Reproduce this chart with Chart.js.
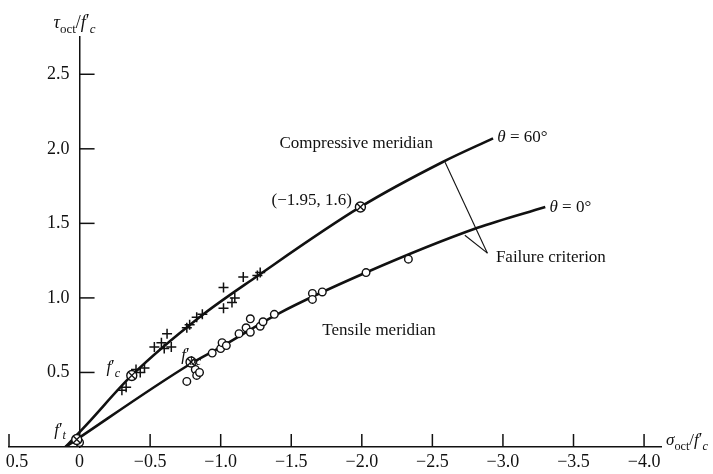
<!DOCTYPE html>
<html>
<head>
<meta charset="utf-8">
<script src="https://cdn.jsdelivr.net/npm/chart.js@4.4.0/dist/chart.umd.min.js"></script>
<style>
  html, body { margin: 0; padding: 0; background: #fff; }
</style>
</head>
<body>
<canvas id="meridianChart" width="713" height="474"></canvas>
<script>
// valori degli assi
const xTickValues = [0.5, 0, -0.5, -1, -1.5, -2, -2.5, -3, -3.5, -4];
const xTickLabels = ['0.5', '0', '\u22120.5', '\u22121.0', '\u22121.5', '\u22122.0', '\u22122.5', '\u22123.0', '\u22123.5', '\u22124.0'];
const yTickValues = [0.5, 1, 1.5, 2, 2.5];
const yTickLabels = ['0.5', '1.0', '1.5', '2.0', '2.5'];

// meridiani (curve di rottura)
const compX = [0.10, -0.05, -0.37, -0.85, -1.25, -1.99, -2.57, -2.93];
const compY = [0, 0.15, 0.48, 0.87, 1.14, 1.61, 1.91, 2.07];
const tensX = [0.10, -0.79, -1.00, -1.40, -2.03, -2.82, -3.30];
const tensY = [0, 0.56, 0.67, 0.89, 1.17, 1.47, 1.61];

// dati sperimentali
const plusPoints = [[-0.30, 0.38], [-0.33, 0.40], [-0.40, 0.52], [-0.43, 0.50], [-0.46, 0.53],
  [-0.53, 0.67], [-0.58, 0.70], [-0.62, 0.76], [-0.60, 0.66], [-0.65, 0.67], [-0.76, 0.80],
  [-0.78, 0.82], [-0.83, 0.87], [-0.87, 0.89], [-1.02, 1.07], [-1.02, 0.93], [-1.08, 0.97],
  [-1.10, 1.00], [-1.16, 1.14], [-1.26, 1.15], [-1.28, 1.17]];
const circlePoints = [[0.00, 0.03], [-0.82, 0.52], [-0.83, 0.48], [-0.76, 0.44], [-0.85, 0.50],
  [-0.94, 0.63], [-1.00, 0.66], [-1.01, 0.70], [-1.04, 0.68], [-1.13, 0.76], [-1.18, 0.80],
  [-1.21, 0.86], [-1.21, 0.77], [-1.28, 0.81], [-1.30, 0.84], [-1.38, 0.89], [-1.65, 1.03],
  [-1.65, 0.99], [-1.72, 1.04], [-2.03, 1.17], [-2.33, 1.26]];
const specialPoints = [[0.02, 0.05], [-0.37, 0.48], [-0.79, 0.57], [-1.99, 1.61]];

const toXY = (xs, ys) => xs.map((x, i) => ({ x: x, y: ys[i] }));
const pairs = arr => arr.map(p => ({ x: p[0], y: p[1] }));

const serif = '"Liberation Serif", "Times New Roman", serif';

// testi sul grafico (posizioni in unita' dei dati)
const notes = [
  { x: -1.96, y: 2.04, parts: [{ t: 'Compressive meridian' }], align: 'center' },
  { x: -1.93, y: 1.66, parts: [{ t: '(\u22121.95, 1.6)' }], align: 'right' },
  { x: -2.96, y: 2.08, parts: [{ t: '\u03b8', it: true }, { t: ' = 60\u00b0' }] },
  { x: -3.33, y: 1.61, parts: [{ t: '\u03b8', it: true }, { t: ' = 0\u00b0' }] },
  { x: -2.95, y: 1.28, parts: [{ t: 'Failure criterion' }] },
  { x: -1.72, y: 0.785, parts: [{ t: 'Tensile meridian' }] },
  { x: -0.19, y: 0.54, parts: [{ t: 'f', it: true }, { t: '\u2032', sup: true }, { t: 'c', it: true, sub: true }] },
  { x: -0.72, y: 0.62, parts: [{ t: 'f', it: true }, { t: '\u2032', sup: true }, { t: 'bc', it: true, sub: true }] },
  { x: 0.18, y: 0.12, parts: [{ t: 'f', it: true }, { t: '\u2032', sup: true }, { t: 't', it: true, sub: true }] }
];
const leaders = [[-2.59, 1.91, -2.89, 1.30], [-2.73, 1.42, -2.89, 1.30]];

function drawRich(ctx, x, y, parts, size, align) {
  const fontOf = p => (p.it ? 'italic ' : '') + (p.sub ? size * 0.72 : size) + 'px ' + serif;
  let w = 0;
  parts.forEach(p => { ctx.font = fontOf(p); w += ctx.measureText(p.t).width; });
  let cx = x;
  if (align === 'center') cx = x - w / 2;
  if (align === 'right') cx = x - w;
  parts.forEach(p => {
    ctx.font = fontOf(p);
    const dy = p.sub ? size * 0.28 : (p.sup ? -size * 0.05 : 0);
    ctx.fillText(p.t, cx, y + dy);
    cx += ctx.measureText(p.t).width;
  });
}

const decor = {
  id: 'decor',
  afterDraw(chart) {
    const ctx = chart.ctx;
    const xs = chart.scales.x, ys = chart.scales.y;
    const x0 = xs.getPixelForValue(0), y0 = ys.getPixelForValue(0);
    ctx.save();
    ctx.strokeStyle = '#111';
    ctx.fillStyle = '#111';
    ctx.lineWidth = 1.5;
    // tacche verso l'interno + etichette
    ctx.font = '18px ' + serif;
    ctx.textAlign = 'center';
    ctx.textBaseline = 'middle';
    xTickValues.forEach((v, i) => {
      const px = xs.getPixelForValue(v);
      if (v !== 0) {
        ctx.beginPath(); ctx.moveTo(px, y0); ctx.lineTo(px, y0 - 13); ctx.stroke();
      }
      ctx.fillText(xTickLabels[i], Math.max(px, 17), y0 + 15);
    });
    ctx.textAlign = 'right';
    yTickValues.forEach((v, i) => {
      const py = ys.getPixelForValue(v);
      ctx.beginPath(); ctx.moveTo(x0, py); ctx.lineTo(x0 + 15, py); ctx.stroke();
      ctx.fillText(yTickLabels[i], x0 - 10, py);
    });
    // linee del "Failure criterion"
    ctx.lineWidth = 1.1;
    leaders.forEach(l => {
      ctx.beginPath();
      ctx.moveTo(xs.getPixelForValue(l[0]), ys.getPixelForValue(l[1]));
      ctx.lineTo(xs.getPixelForValue(l[2]), ys.getPixelForValue(l[3]));
      ctx.stroke();
    });
    // testi
    ctx.textAlign = 'left';
    ctx.textBaseline = 'alphabetic';
    notes.forEach(n => {
      drawRich(ctx, xs.getPixelForValue(n.x), ys.getPixelForValue(n.y) + 5.5, n.parts, 17, n.align || 'left');
    });
    // titoli degli assi
    drawRich(ctx, x0 - 26, ys.top - 9, [{ t: '\u03c4', it: true }, { t: 'oct', sub: true }, { t: '/' },
      { t: 'f', it: true }, { t: '\u2032', sup: true }, { t: 'c', it: true, sub: true }], 18, 'left');
    drawRich(ctx, xs.right + 5, y0 - 2, [{ t: '\u03c3', it: true }, { t: 'oct', sub: true }, { t: '/' },
      { t: 'f', it: true }, { t: '\u2032', sup: true }, { t: 'c', it: true, sub: true }], 17, 'left');
    ctx.restore();
  }
};

const ctx = document.getElementById('meridianChart').getContext('2d');

const myChart = new Chart(ctx, {
  type: 'scatter',
  data: {
    datasets: [
      { label: 'Compressive meridian', data: toXY(compX, compY), showLine: true, cubicInterpolationMode: 'monotone',
        borderColor: '#111', borderWidth: 2.6, pointRadius: 0, order: 5 },
      { label: 'Tensile meridian', data: toXY(tensX, tensY), showLine: true, cubicInterpolationMode: 'monotone',
        borderColor: '#111', borderWidth: 2.6, pointRadius: 0, order: 5 },
      { label: 'plus', data: pairs(plusPoints), pointStyle: 'cross', pointRadius: 5,
        borderColor: '#111', borderWidth: 1.5, order: 2 },
      { label: 'circle', data: pairs(circlePoints), pointStyle: 'circle', pointRadius: 3.8,
        backgroundColor: '#fff', borderColor: '#111', borderWidth: 1.4, order: 2 },
      { label: 'special', data: pairs(specialPoints), pointStyle: 'circle', pointRadius: 5,
        backgroundColor: '#fff', borderColor: '#111', borderWidth: 1.4, order: 1 },
      { label: 'special x', data: pairs(specialPoints), pointStyle: 'crossRot', pointRadius: 5,
        borderColor: '#111', borderWidth: 1.3, order: 0 }
    ]
  },
  options: {
    responsive: false,
    animation: false,
    layout: { padding: { top: 37, left: 9, right: 52, bottom: 0 } },
    plugins: { legend: { display: false }, tooltip: { enabled: false } },
    scales: {
      x: {
        type: 'linear', reverse: true, min: -4.12, max: 0.5,
        afterBuildTicks: s => { s.ticks = xTickValues.map(v => ({ value: v })); },
        afterFit: s => { s.height = 27; s.paddingLeft = 0; s.paddingRight = 0; },
        grid: { display: false, drawTicks: false },
        border: { display: true, color: '#111', width: 1.5 },
        ticks: { display: false }
      },
      y: {
        type: 'linear', min: 0, max: 2.75, position: { x: 0 },
        afterBuildTicks: s => { s.ticks = yTickValues.map(v => ({ value: v })); },
        grid: { display: false, drawTicks: false },
        border: { display: true, color: '#111', width: 1.5 },
        ticks: { display: false }
      }
    }
  },
  plugins: [decor]
});
</script>
</body>
</html>
